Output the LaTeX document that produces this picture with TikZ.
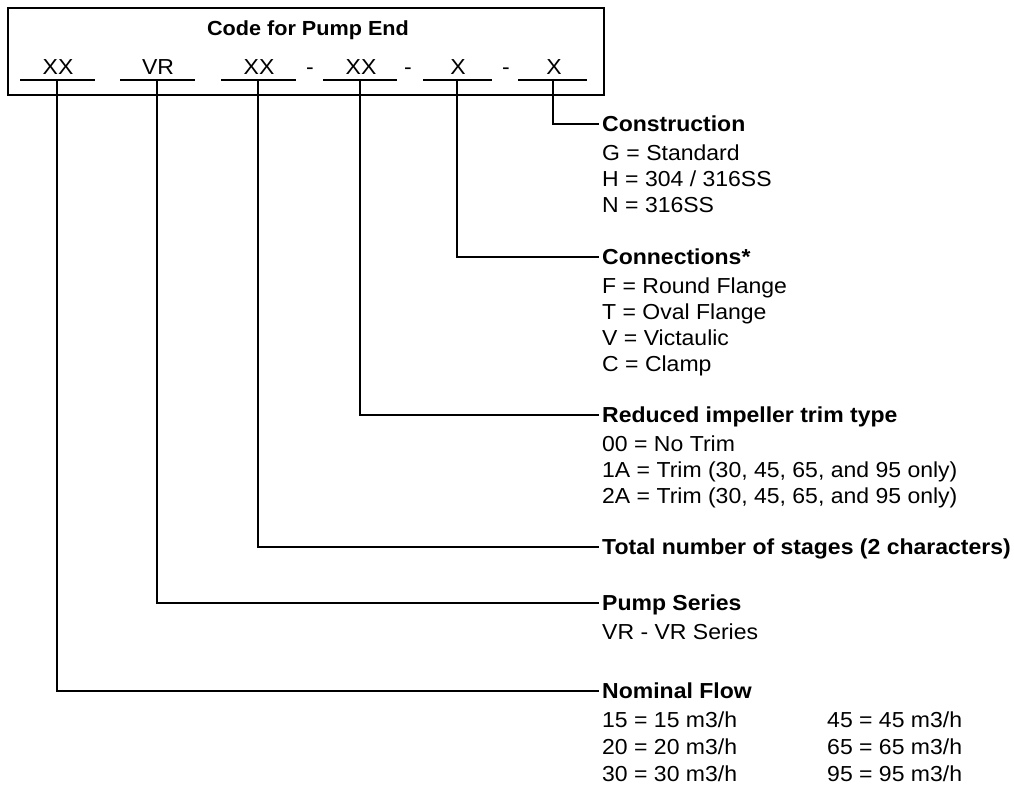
\documentclass[tikz,border=0pt]{standalone}
\usepackage{fontspec}
\setmainfont{Liberation Sans}[FakeStretch=1.06]
\begin{document}
\begin{tikzpicture}[x=1pt,y=-1pt,
  txt/.style={font=\fontsize{21.7}{25}\selectfont, inner sep=0pt},
  code/.style={txt, anchor=base},
  head/.style={txt, font=\fontsize{21.7}{25}\selectfont\bfseries, anchor=base west, inner xsep=3pt},
  item/.style={txt, anchor=base west},
  conn/.style={line width=1.8pt}]
\useasboundingbox (0,0) rectangle (1014,790);
% frame
\node[draw, line width=2pt, minimum width=596pt, minimum height=87pt, inner sep=0pt, anchor=north west] (frame) at (7,7) {};
\node[txt, font=\fontsize{20.4}{25}\selectfont\bfseries, anchor=base] (title) at (308,35) {Code for Pump End};
% code letters
\node[code] (c1) at (58,74) {XX};
\node[code] (c2) at (158,74) {VR};
\node[code] (c3) at (259,74) {XX};
\node[code] (d1) at (310,74) {-};
\node[code] (c4) at (361,74) {XX};
\node[code] (d2) at (408,74) {-};
\node[code] (c5) at (458,74) {X};
\node[code] (d3) at (506,74) {-};
\node[code] (c6) at (554,74) {X};
% underlines
\draw[line width=1.6pt] (20,80) -- (95,80);
\draw[line width=1.6pt] (120,80) -- (195,80);
\draw[line width=1.6pt] (221,80) -- (296,80);
\draw[line width=1.6pt] (323,80) -- (397,80);
\draw[line width=1.6pt] (423,80) -- (492,80);
\draw[line width=1.6pt] (518,80) -- (587,80);
\coordinate (u1) at (57,80);
\coordinate (u2) at (157,80);
\coordinate (u3) at (258,80);
\coordinate (u4) at (360,80);
\coordinate (u5) at (457,80);
\coordinate (u6) at (553,80);
% headers
\node[head] (hCons) at (599,131) {Construction};
\node[item] (g1) at (602,160) {G = Standard};
\node[item] (g2) at (602,186) {H = 304 / 316SS};
\node[item] (g3) at (602,212) {N = 316SS};
\node[head] (hConn) at (599,264) {Connections*};
\node[item] (k1) at (602,293) {F = Round Flange};
\node[item] (k2) at (602,319) {T = Oval Flange};
\node[item] (k3) at (602,345) {V = Victaulic};
\node[item] (k4) at (602,371) {C = Clamp};
\node[head] (hRed) at (599,422) {Reduced impeller trim type};
\node[item] (r1) at (602,451) {00 = No Trim};
\node[item] (r2) at (602,477) {1A = Trim (30, 45, 65, and 95 only)};
\node[item] (r3) at (602,503) {2A = Trim (30, 45, 65, and 95 only)};
\node[head] (hTot) at (599,554) {Total number of stages (2 characters)};
\node[head] (hPump) at (599,610) {Pump Series};
\node[item] (p1) at (602,639) {VR - VR Series};
\node[head] (hNom) at (599,698) {Nominal Flow};
\node[item] (n1) at (602,727) {15 = 15 m3/h};
\node[item] (n2) at (602,754) {20 = 20 m3/h};
\node[item] (n3) at (602,781) {30 = 30 m3/h};
\node[item] (n4) at (827,727) {45 = 45 m3/h};
\node[item] (n5) at (827,754) {65 = 65 m3/h};
\node[item] (n6) at (827,781) {95 = 95 m3/h};
% connectors
\draw[conn] (u6) |- ([yshift=7pt]hCons.base west);
\draw[conn] (u5) |- ([yshift=7pt]hConn.base west);
\draw[conn] (u4) |- ([yshift=7pt]hRed.base west);
\draw[conn] (u3) |- ([yshift=7pt]hTot.base west);
\draw[conn] (u2) |- ([yshift=7pt]hPump.base west);
\draw[conn] (u1) |- ([yshift=7pt]hNom.base west);
\end{tikzpicture}
\end{document}
